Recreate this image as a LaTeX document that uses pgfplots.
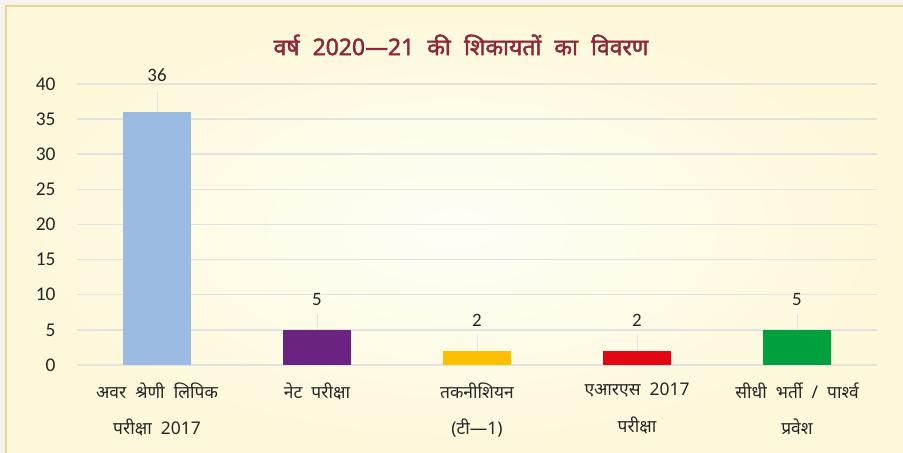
\documentclass[border=0pt]{standalone}
\usepackage{fontspec}
\usepackage{pgfplots}
\usepackage{pgfplotstable}
\pgfplotsset{compat=1.18}
\setmainfont{Carlito}
\newfontfamily\hindi[Script=Devanagari, WordSpace=2]{Noto Sans}
\newfontfamily\hindibold[Script=Devanagari, FakeBold=2, WordSpace=2.2]{Noto Sans}
\definecolor{frameout}{RGB}{244,243,238}
\definecolor{goldline}{RGB}{228,214,140}
\definecolor{bginner}{RGB}{255,254,246}
\definecolor{bgouter}{RGB}{253,248,218}
\definecolor{titlec}{RGB}{140,40,58}
\definecolor{gridc}{RGB}{226,226,224}
\definecolor{cA}{RGB}{155,187,227}
\definecolor{cB}{RGB}{106,35,128}
\definecolor{cC}{RGB}{252,192,0}
\definecolor{cD}{RGB}{227,7,20}
\definecolor{cE}{RGB}{0,160,60}
\pgfplotstableread{
x y err sh
0 36 2.85 37
1 5 2.3 30
2 2 2.3 31
3 2 2.3 31
4 5 2.3 30
}\datatab
\begin{document}
\begin{tikzpicture}[x=1bp,y=1bp]
\useasboundingbox (0,0) rectangle (903,453);
\fill[frameout] (0,0) rectangle (903,453);
\shade[inner color=bginner, outer color=bgouter] (6,0) rectangle (903,447);
\draw[goldline, line width=2bp] (6,0) -- (6,447) -- (903,447);
\node[font=\hindibold\fontsize{23}{26}\selectfont, text=titlec] at (461,408) {वर्ष 2020—21 की शिकायतों का विवरण};
\begin{axis}[
  at={(77bp,88bp)}, anchor=south west,
  scale only axis, width=800bp, height=281bp,
  xmin=-0.5, xmax=4.5, ymin=0, ymax=40,
  ytick={0,5,...,40},
  xtick={0,1,2,3,4},
  xticklabels={{अवर श्रेणी लिपिक\\परीक्षा 2017},{नेट परीक्षा},{तकनीशियन\\(टी—1)},{एआरएस 2017\\परीक्षा},{सीधी भर्ती / पार्श्व\\प्रवेश}},
  axis line style={draw=none},
  major tick length=0pt,
  ymajorgrids, grid style={gridc, line width=1.5bp},
  yticklabel style={font=\fontsize{19.5}{22}\selectfont, text=black!85, xshift=-18bp},
  xticklabel style={font=\hindi\fontsize{17.5}{37}\selectfont, text=black!85, align=center, yshift=-14bp},
  /pgf/number format/assume math mode=true,
  clip=false,
  ybar, bar width=68bp, bar shift=0pt,
  visualization depends on={\thisrow{sh} \as \sh},
  every node near coord/.append style={font=\fontsize{19}{22}\selectfont, text=black!85, anchor=center, yshift=\sh bp},
  error bars/y dir=plus, error bars/y explicit,
  error bars/error mark=none,
  error bars/error bar style={gridc, line width=1bp},
]
\addplot[fill=cA, draw=none, nodes near coords, point meta=explicit symbolic] table[x=x, y=y, y error=err, meta=y, restrict expr to domain={\thisrow{x}}{0:0}] {\datatab};
\addplot[fill=cB, draw=none, nodes near coords, point meta=explicit symbolic] table[x=x, y=y, y error=err, meta=y, restrict expr to domain={\thisrow{x}}{1:1}] {\datatab};
\addplot[fill=cC, draw=none, nodes near coords, point meta=explicit symbolic] table[x=x, y=y, y error=err, meta=y, restrict expr to domain={\thisrow{x}}{2:2}] {\datatab};
\addplot[fill=cD, draw=none, nodes near coords, point meta=explicit symbolic] table[x=x, y=y, y error=err, meta=y, restrict expr to domain={\thisrow{x}}{3:3}] {\datatab};
\addplot[fill=cE, draw=none, nodes near coords, point meta=explicit symbolic] table[x=x, y=y, y error=err, meta=y, restrict expr to domain={\thisrow{x}}{4:4}] {\datatab};
\end{axis}
\end{tikzpicture}
\end{document}
